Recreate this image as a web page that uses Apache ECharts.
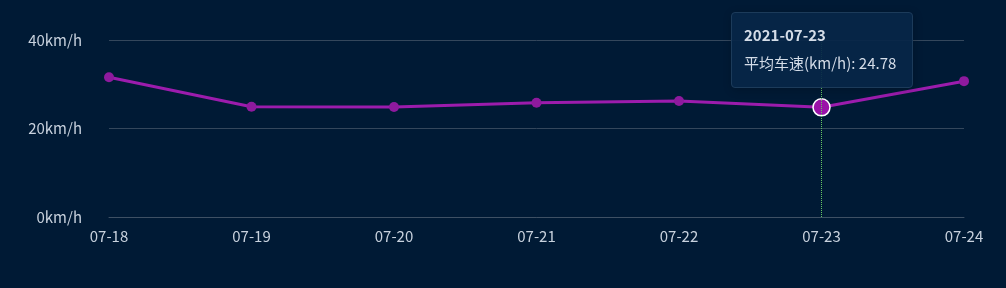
<!DOCTYPE html>
<html><head><meta charset="utf-8">
<script src="https://cdn.jsdelivr.net/npm/echarts@6/dist/echarts.min.js"></script>
<style>html,body{margin:0;padding:0;background:#001a35;}#c{width:1006px;height:288px;}</style>
</head><body><div id="c"></div>
<script>
var categories = ['07-18','07-19','07-20','07-21','07-22','07-23','07-24'];
var fullDates = ['2021-07-18','2021-07-19','2021-07-20','2021-07-21','2021-07-22','2021-07-23','2021-07-24'];
var speeds = [31.6, 24.9, 24.85, 25.8, 26.2, 24.78, 30.7];
var seriesName = '平均车速(km/h)';
var chart = echarts.init(document.getElementById('c'));
var font = '"Noto Sans CJK SC", "Noto Sans", sans-serif';
chart.setOption({
  backgroundColor: '#001a35',
  animation: false,
  grid: {left: 109, right: 42, top: 40, bottom: 71},
  tooltip: {
    trigger: 'axis',
    backgroundColor: 'rgba(6,38,72,0.92)',
    borderColor: '#1c3b5a',
    borderWidth: 1,
    padding: [10, 12, 10, 12],
    textStyle: {color: '#d4dde8', fontFamily: font, fontSize: 15},
    axisPointer: {type: 'line', lineStyle: {color: '#66c766', type: 'dotted', width: 1}},
    position: function (point, params, dom, rect, size) {
      return [point[0] - size.contentSize[0] / 2, 12];
    },
    formatter: function (ps) {
      var p = ps[0];
      return '<div style="font-weight:bold;font-size:15px;line-height:24px;">' + fullDates[p.dataIndex] + '</div>' +
        '<div style="font-size:15px;line-height:28px;margin-top:2px;padding-right:4px;">' + p.seriesName + ': ' + p.value + '</div>';
    }
  },
  xAxis: {
    type: 'category',
    data: categories,
    boundaryGap: false,
    axisLine: {lineStyle: {color: '#3e5064'}},
    axisTick: {show: false},
    axisLabel: {color: '#c8d2de', fontSize: 15, fontFamily: font, margin: 12}
  },
  yAxis: {
    type: 'value',
    min: 0, max: 40, interval: 20,
    axisLine: {show: false},
    axisTick: {show: false},
    splitLine: {lineStyle: {color: '#34475c'}},
    axisLabel: {color: '#c8d2de', fontSize: 15, fontFamily: font, margin: 27, formatter: '{value}km/h'}
  },
  series: [{
    name: seriesName,
    type: 'line',
    data: speeds,
    symbol: 'circle',
    symbolSize: 10,
    lineStyle: {color: '#8e1a9e', width: 3},
    itemStyle: {color: '#8e1a9e'},
    emphasis: {scale: 1.7, itemStyle: {color: '#9a12a8', borderColor: '#ffffff', borderWidth: 1.5}}
  }]
});
setTimeout(function(){
  chart.dispatchAction({type: 'showTip', seriesIndex: 0, dataIndex: 5});
}, 50);
</script></body></html>
